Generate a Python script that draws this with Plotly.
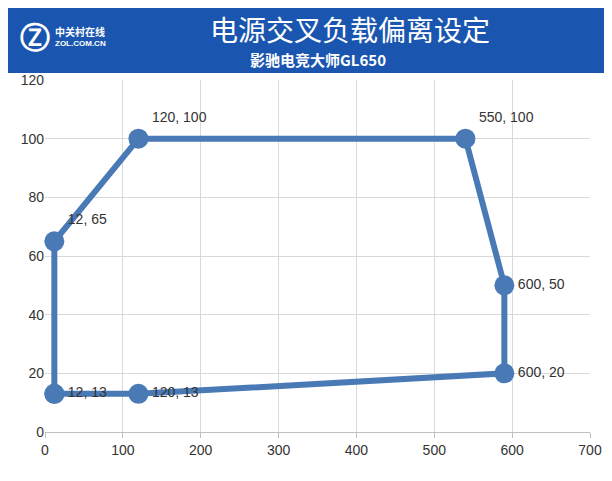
import plotly.graph_objects as go

# 数据
x_vals = [12, 12, 120, 540, 590, 590, 120, 12]
y_vals = [13, 65, 100, 100, 50, 20, 13, 13]
labels = ["12, 13", "12, 65", "120, 100", "550, 100", "600, 50", "600, 20", "120, 13", ""]
label_pos = ["middle right", "top right", "top right", "top right", "middle right", "middle right", "middle right", "middle right"]

fig = go.Figure()
fig.add_trace(go.Scatter(
    x=x_vals, y=y_vals, mode="lines+markers+text",
    text=labels, textposition=label_pos,
    textfont=dict(size=14, color="#333333"),
    line=dict(color="#4a7ab5", width=6),
    marker=dict(size=20, color="#4a7ab5"),
    cliponaxis=False, showlegend=False
))

# 顶部横幅 (画布高度 352px)
ph = 352.0
def py(px):
    return 1 + (72 - px) / ph

fig.add_shape(type="rect", xref="paper", yref="paper", x0=-0.1, x1=1.1, y0=py(65), y1=py(-10),
              fillcolor="#1a56b0", line_width=0, layer="below")
fig.add_annotation(xref="paper", yref="paper", x=0.56, y=py(21), yanchor="middle",
                   text="电源交叉负载偏离设定", showarrow=False,
                   font=dict(size=28, color="white", family="Noto Sans CJK SC"))
fig.add_annotation(xref="paper", yref="paper", x=0.5, y=py(52), yanchor="middle",
                   text="<b>影驰电竞大师GL650</b>", showarrow=False,
                   font=dict(size=15, color="white", family="Noto Sans CJK SC"))
fig.add_annotation(xref="paper", yref="paper", x=-0.05, y=py(29), yanchor="middle", xanchor="left",
                   text="<b>Ⓩ</b>", showarrow=False, font=dict(size=30, color="white"))
fig.add_annotation(xref="paper", yref="paper", x=0.015, y=py(23), yanchor="middle", xanchor="left",
                   text="<b>中关村在线</b>", showarrow=False,
                   font=dict(size=10, color="white", family="Noto Sans CJK SC"))
fig.add_annotation(xref="paper", yref="paper", x=0.015, y=py(36), yanchor="middle", xanchor="left",
                   text="<b>ZOL.COM.CN</b>", showarrow=False, font=dict(size=8, color="white"))

fig.update_layout(
    width=612, height=481,
    margin=dict(l=37, r=30, t=72, b=57),
    paper_bgcolor="white", plot_bgcolor="white",
    font=dict(family="Liberation Sans", size=14, color="#333333"),
    xaxis=dict(range=[0, 700], dtick=100, showgrid=True, gridcolor="#d9d9d9",
               zeroline=False, showline=True, linecolor="#bfbfbf", ticks="outside",
               ticklen=5, tickcolor="#bfbfbf", automargin=False),
    yaxis=dict(range=[0, 120], dtick=20, showgrid=True, gridcolor="#d9d9d9",
               zeroline=False, showline=False, automargin=False),
)
fig.write_html("out.html")
